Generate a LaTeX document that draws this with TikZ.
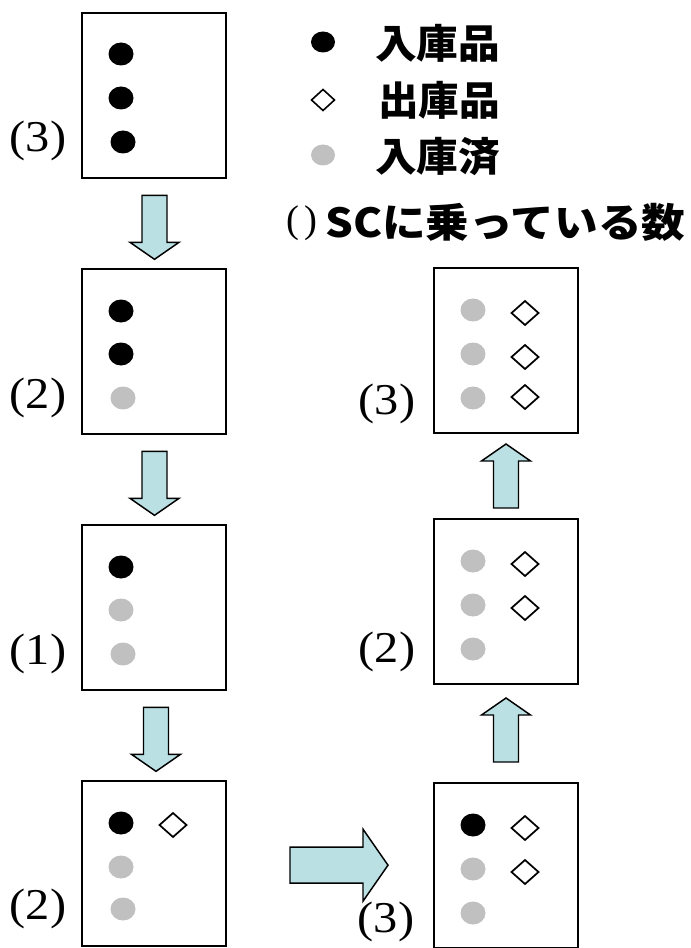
\documentclass[tikz,border=0pt]{standalone}
\usepackage{graphicx}
\usepackage{fontspec}
\setmainfont{Liberation Serif}
\newfontfamily\jpfont{Noto Sans CJK JP}
\usetikzlibrary{calc}
\definecolor{arrowfill}{HTML}{BAE0E3}
\definecolor{donegray}{HTML}{C0C0C0}
\begin{document}
\begin{tikzpicture}[x=0.75pt,y=-0.75pt,
  box/.style={draw, line width=1.5pt, minimum width=108pt, minimum height=124pt,
    anchor=north west, inner sep=0pt},
  count/.style={inner sep=0pt, font=\fontsize{33pt}{36pt}\selectfont},
  legend/.style={inner sep=0pt, anchor=west, font=\jpfont\bfseries\fontsize{30pt}{32pt}\selectfont},
  indot/.pic={\fill[black] (0,0) ellipse [x radius=12.5, y radius=11.5];},
  donedot/.pic={\fill[donegray] (0,0) ellipse [x radius=12.5, y radius=11.5];},
  outmark/.pic={\draw[line width=1.3pt, fill=white] (-13.5,0) -- (0,-12) -- (13.5,0) -- (0,12) -- cycle;},
  downarrow/.pic={\filldraw[fill=arrowfill, draw=black, line width=1.1pt]
    (-12.5,0) -- (12.5,0) -- (12.5,47) -- (24.5,47) -- (0,64) -- (-24.5,47) -- (-12.5,47) -- cycle;},
  rightarrow/.pic={\filldraw[fill=arrowfill, draw=black, line width=1.1pt]
    (0,-18) -- (73,-18) -- (73,-36) -- (98,0) -- (73,36) -- (73,18) -- (0,18) -- cycle;},
]
\useasboundingbox (0,0) rectangle (691,948);

% left column of shuttle states
\node[box] (L1) at (81,12) {};
\node[box] (L2) at (81,268) {};
\node[box] (L3) at (81,524) {};
\node[box] (L4) at (81,780) {};
% right column
\node[box] (R1) at (433,267) {};
\node[box] (R2) at (433,518) {};
\node[box] (R3) at (433,782) {};

% contents
\pic at ($(L1.north west)+(40,42)$) {indot};
\pic at ($(L1.north west)+(40,86)$) {indot};
\pic at ($(L1.north west)+(42,130)$) {indot};

\pic at ($(L2.north west)+(40,43)$) {indot};
\pic at ($(L2.north west)+(40,86)$) {indot};
\pic at ($(L2.north west)+(42,130)$) {donedot};

\pic at ($(L3.north west)+(40,43)$) {indot};
\pic at ($(L3.north west)+(40,86)$) {donedot};
\pic at ($(L3.north west)+(42,130)$) {donedot};

\pic at ($(L4.north west)+(40,43)$) {indot};
\pic at ($(L4.north west)+(40,87)$) {donedot};
\pic at ($(L4.north west)+(42,129)$) {donedot};
\pic at ($(L4.north west)+(92,45)$) {outmark};

\foreach \b/\c in {R1/{donedot,donedot,donedot}, R2/{donedot,donedot,donedot}, R3/{indot,donedot,donedot}}{
  \foreach \k [count=\i] in \c {
    \pic at ($(\b.north west)+(40,44*\i-1)$) {\k};
  }
}
\pic at ($(R1.north west)+(92,46)$) {outmark};
\pic at ($(R1.north west)+(92,90)$) {outmark};
\pic at ($(R1.north west)+(92,130)$) {outmark};
\pic at ($(R2.north west)+(92,46)$) {outmark};
\pic at ($(R2.north west)+(92,90)$) {outmark};
\pic at ($(R3.north west)+(92,46)$) {outmark};
\pic at ($(R3.north west)+(92,90)$) {outmark};

% counts on the shuttle
\node[count] (c1) at ($(L1.north west)+(-43,129)$) {\scalebox{1.1}[1]{(3)}};
\node[count] (c2) at ($(L2.north west)+(-43,130)$) {\scalebox{1.1}[1]{(2)}};
\node[count] (c3) at ($(L3.north west)+(-43,130)$) {\scalebox{1.1}[1]{(1)}};
\node[count] (c4) at ($(L4.north west)+(-43,129)$) {\scalebox{1.1}[1]{(2)}};
\node[count] (c5) at ($(R1.north west)+(-46,137)$) {\scalebox{1.1}[1]{(3)}};
\node[count] (c6) at ($(R2.north west)+(-46,134)$) {\scalebox{1.1}[1]{(2)}};
\node[count] (c7) at ($(R3.north west)+(-47,140)$) {\scalebox{1.1}[1]{(3)}};

% block arrows between states
\pic at ($(L1.south)+(0.5,16)$) {downarrow};
\pic at ($(L2.south)+(0.5,16)$) {downarrow};
\pic at ($(L3.south)+(2,16)$) {downarrow};
\pic[yscale=-1] at ($(R2.north)+(0,-10)$) {downarrow};
\pic[yscale=-1] at ($(R3.north)+(0,-20)$) {downarrow};
\pic at ($(L4.east)+(63,1.5)$) {rightarrow};

% legend
\fill[black] (323,42) ellipse [x radius=12, y radius=10.5];
\draw[line width=1.2pt] (311.5,100) -- (323,89.5) -- (334.5,100) -- (323,110.5) -- cycle;
\fill[donegray] (323,155) ellipse [x radius=12, y radius=10.5];
\node[legend] (k1) at (375,43) {\resizebox{93.75pt}{\height}{入庫品}};
\node[legend] (k2) at (378,100) {\resizebox{91.5pt}{\height}{出庫品}};
\node[legend] (k3) at (375,157) {\resizebox{93.75pt}{\height}{入庫済}};
\node[inner sep=0pt, font=\fontsize{29pt}{31pt}\selectfont] (k4) at (302,223) {(\hspace{4pt})};
\node[legend] (k5) at (325,222) {\resizebox{270pt}{\height}{SCに乗っている数}};
\end{tikzpicture}
\end{document}
